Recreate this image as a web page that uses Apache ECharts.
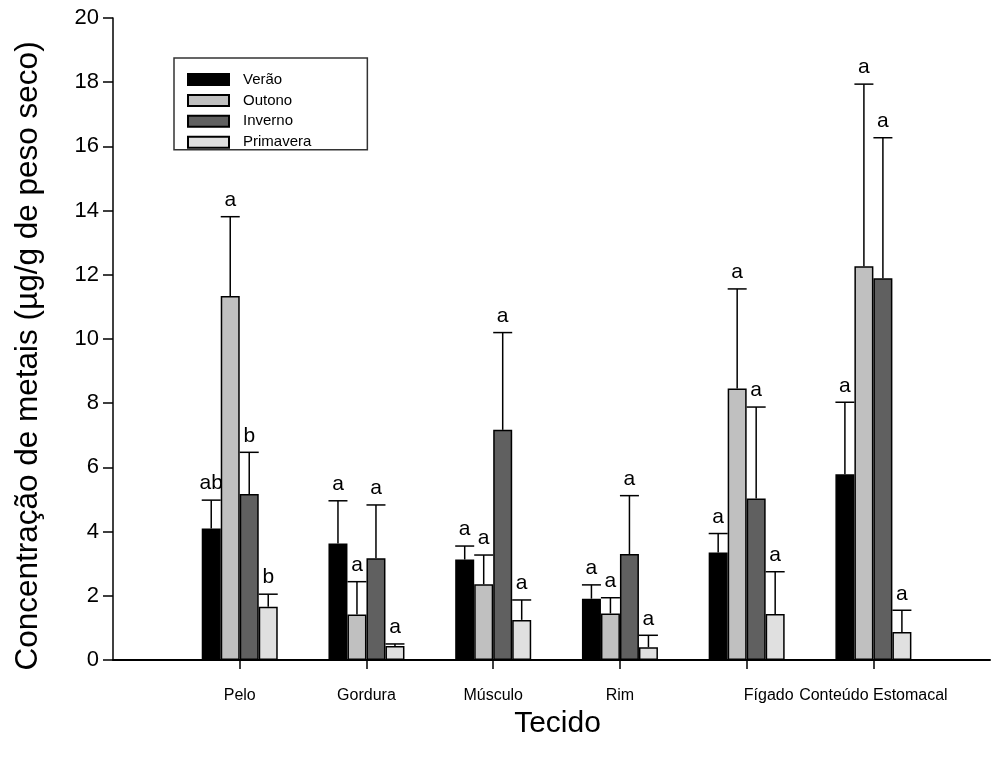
<!DOCTYPE html>
<html>
<head>
<meta charset="utf-8">
<script src="https://cdn.jsdelivr.net/npm/echarts@6/dist/echarts.min.js"></script>
<style>html,body{margin:0;padding:0;background:#fff}#c{width:995px;height:764px}</style>
</head>
<body>
<div id="c"></div>
<script>
const categories = ['Pelo', 'Gordura', 'Músculo', 'Rim', 'Fígado', 'Conteúdo Estomacal'];
const seasons = ['Verão', 'Outono', 'Inverno', 'Primavera'];
const verao = [4.10, 3.63, 3.13, 1.91, 3.35, 5.79];
const outono = [11.34, 1.42, 2.36, 1.45, 8.46, 12.27];
const inverno = [5.17, 3.17, 7.17, 3.30, 5.03, 11.89];
const primavera = [1.66, 0.44, 1.25, 0.40, 1.43, 0.87];
const veraoSE = [0.88, 1.33, 0.42, 0.43, 0.59, 2.24];
const outonoSE = [2.47, 1.02, 0.91, 0.49, 3.10, 5.67];
const invernoSE = [1.30, 1.66, 3.03, 1.82, 2.85, 4.38];
const primaveraSE = [0.39, 0.06, 0.62, 0.37, 1.32, 0.68];
const veraoLetters = ['ab', 'a', 'a', 'a', 'a', 'a'];
const outonoLetters = ['a', 'a', 'a', 'a', 'a', 'a'];
const invernoLetters = ['b', 'a', 'a', 'a', 'a', 'a'];
const primaveraLetters = ['b', 'a', 'a', 'a', 'a', 'a'];
const yTicks = [0, 2, 4, 6, 8, 10, 12, 14, 16, 18, 20];

const colors = ['#000000', '#c0c0c0', '#606060', '#e0e0e0'];
const means = [verao, outono, inverno, primavera];
const ses = [veraoSE, outonoSE, invernoSE, primaveraSE];
const letters = [veraoLetters, outonoLetters, invernoLetters, primaveraLetters];
const BAR_W = 19;
const FONT = 'Liberation Sans, Arial, sans-serif';
const catPos = categories.map((c, i) => i + 1);

const series = [];
seasons.forEach((name, k) => {
  series.push({
    name: name,
    type: 'bar',
    data: means[k].map((m, i) => [catPos[i], m]),
    barWidth: BAR_W,
    barGap: '0%',
    itemStyle: { color: colors[k], borderColor: '#000', borderWidth: 1.5 },
    z: 2
  });
});
seasons.forEach((name, k) => {
  series.push({
    type: 'custom',
    data: means[k].map((m, i) => [catPos[i], m, ses[k][i]]),
    z: 3,
    renderItem: function (params, api) {
      const x = api.value(0), m = api.value(1), se = api.value(2);
      const base = api.coord([x, m]);
      const tip = api.coord([x, m + se]);
      const cx = base[0] + (k - 1.5) * BAR_W;
      const h = BAR_W / 2;
      return {
        type: 'group',
        children: [
          { type: 'line', shape: { x1: cx, y1: base[1], x2: cx, y2: tip[1] }, style: { stroke: '#000', lineWidth: 1.5 } },
          { type: 'line', shape: { x1: cx - h, y1: tip[1], x2: cx + h, y2: tip[1] }, style: { stroke: '#000', lineWidth: 1.5 } },
          { type: 'text', x: cx, y: tip[1] - 6, style: { text: letters[k][params.dataIndex], fontSize: 21, fontFamily: FONT, fill: '#000', align: 'center', verticalAlign: 'bottom' } }
        ]
      };
    }
  });
});

const chart = echarts.init(document.getElementById('c'), null, { renderer: 'canvas' });
chart.setOption({
  animation: false,
  backgroundColor: '#fff',
  grid: { left: 113, right: 5, top: 18, bottom: 104, containLabel: false },
  legend: {
    data: seasons,
    orient: 'vertical',
    left: 174,
    top: 58,
    padding: [14, 56, 0, 13],
    icon: 'rect',
    itemWidth: 41,
    itemHeight: 11,
    itemGap: 5.9,
    borderColor: '#333',
    borderWidth: 1.5,
    selectedMode: false,
    textStyle: { fontSize: 15, fontFamily: FONT, color: '#000', lineHeight: 10, padding: [0, 0, 0, 9] }
  },
  xAxis: {
    type: 'value',
    min: 0,
    max: 6.92,
    splitLine: { show: false },
    axisLine: { show: true, onZero: false, lineStyle: { color: '#000', width: 2 } },
    axisTick: { show: true, customValues: catPos, length: 9, lineStyle: { color: '#000', width: 1.5 } },
    axisLabel: {
      customValues: catPos,
      hideOverlap: false,
      showMinLabel: true,
      showMaxLabel: true,
      margin: 28,
      fontSize: 16,
      fontFamily: FONT,
      color: '#000',
      formatter: function (v) {
        const name = categories[Math.round(v) - 1];
        return name === 'Fígado' ? '{f|' + name + '}' : name;
      },
      rich: { f: { fontSize: 16, fontFamily: FONT, color: '#000', padding: [0, 0, 0, 44] } }
    },
    name: 'Tecido',
    nameLocation: 'middle',
    nameGap: 41,
    nameTextStyle: { fontSize: 30, fontFamily: FONT, color: '#000', padding: [0, 0, 0, 12] }
  },
  yAxis: {
    type: 'value',
    min: yTicks[0],
    max: yTicks[yTicks.length - 1],
    interval: 2,
    splitLine: { show: false },
    axisLine: { show: true, lineStyle: { color: '#000', width: 1.5 } },
    axisTick: { show: true, length: 10, lineStyle: { color: '#000', width: 1.5 } },
    axisLabel: { margin: 14, fontSize: 22, fontFamily: FONT, color: '#000' },
    name: 'Concentração de metais (µg/g de peso seco)',
    nameLocation: 'middle',
    nameGap: 69,
    nameTextStyle: { fontSize: 31.5, fontFamily: FONT, color: '#000', padding: [0, 34, 0, 0] }
  },
  series: series
});
</script>
</body>
</html>
